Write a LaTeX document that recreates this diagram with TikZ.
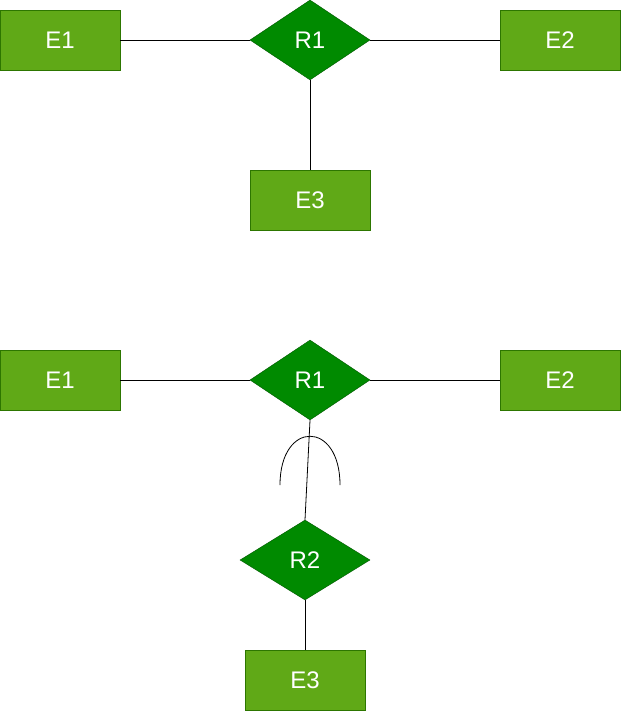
\documentclass[tikz,border=0pt]{standalone}
\usepackage{fontspec}
\setmainfont{Liberation Sans}
\usetikzlibrary{shapes.geometric}
\definecolor{entfill}{HTML}{60A917}
\definecolor{entdraw}{HTML}{2D7600}
\definecolor{relfill}{HTML}{008A00}
\definecolor{reldraw}{HTML}{005700}
\newcommand{\erfont}{\fontsize{24pt}{28pt}\selectfont}

\begin{document}
\begin{tikzpicture}[x=1pt,y=-1pt,
    entity/.style={rectangle,draw=entdraw,fill=entfill,text=white,
      minimum width=120pt,minimum height=60pt,inner sep=0pt,font=\erfont},
    relation/.style={diamond,draw=reldraw,fill=relfill,text=white,
      minimum width=120pt,minimum height=80pt,inner sep=0pt,font=\erfont},
    link/.style={draw=black,line width=0.8pt}]
      \useasboundingbox (0,0) rectangle (621,711);
      % ternary relationship
      \path (310,40) node[relation](r1){R1}
            (60,40) node[entity](e1){E1}
            (560,40) node[entity](e2){E2}
            (310,200) node[entity](e3){E3};
      \draw[link] (e1) -- (r1) -- (e2);
      \draw[link] (r1) -- (e3);
      % relationship on relationship
      \path (310,380) node[relation](ra){R1}
            (60,380) node[entity](ea){E1}
            (560,380) node[entity](eb){E2}
            (305,560) node[relation,minimum width=130pt](rb){R2}
            (305,680) node[entity](ec){E3};
      \draw[link] (ea) -- (ra) -- (eb);
      \draw[link] (ra.south) -- (rb.north);
      \draw[link] (rb) -- (ec);
      \draw[line width=0.8pt] (280,485) .. controls (280,420) and (340,420) .. (340,485);
    \end{tikzpicture}
\end{document}
